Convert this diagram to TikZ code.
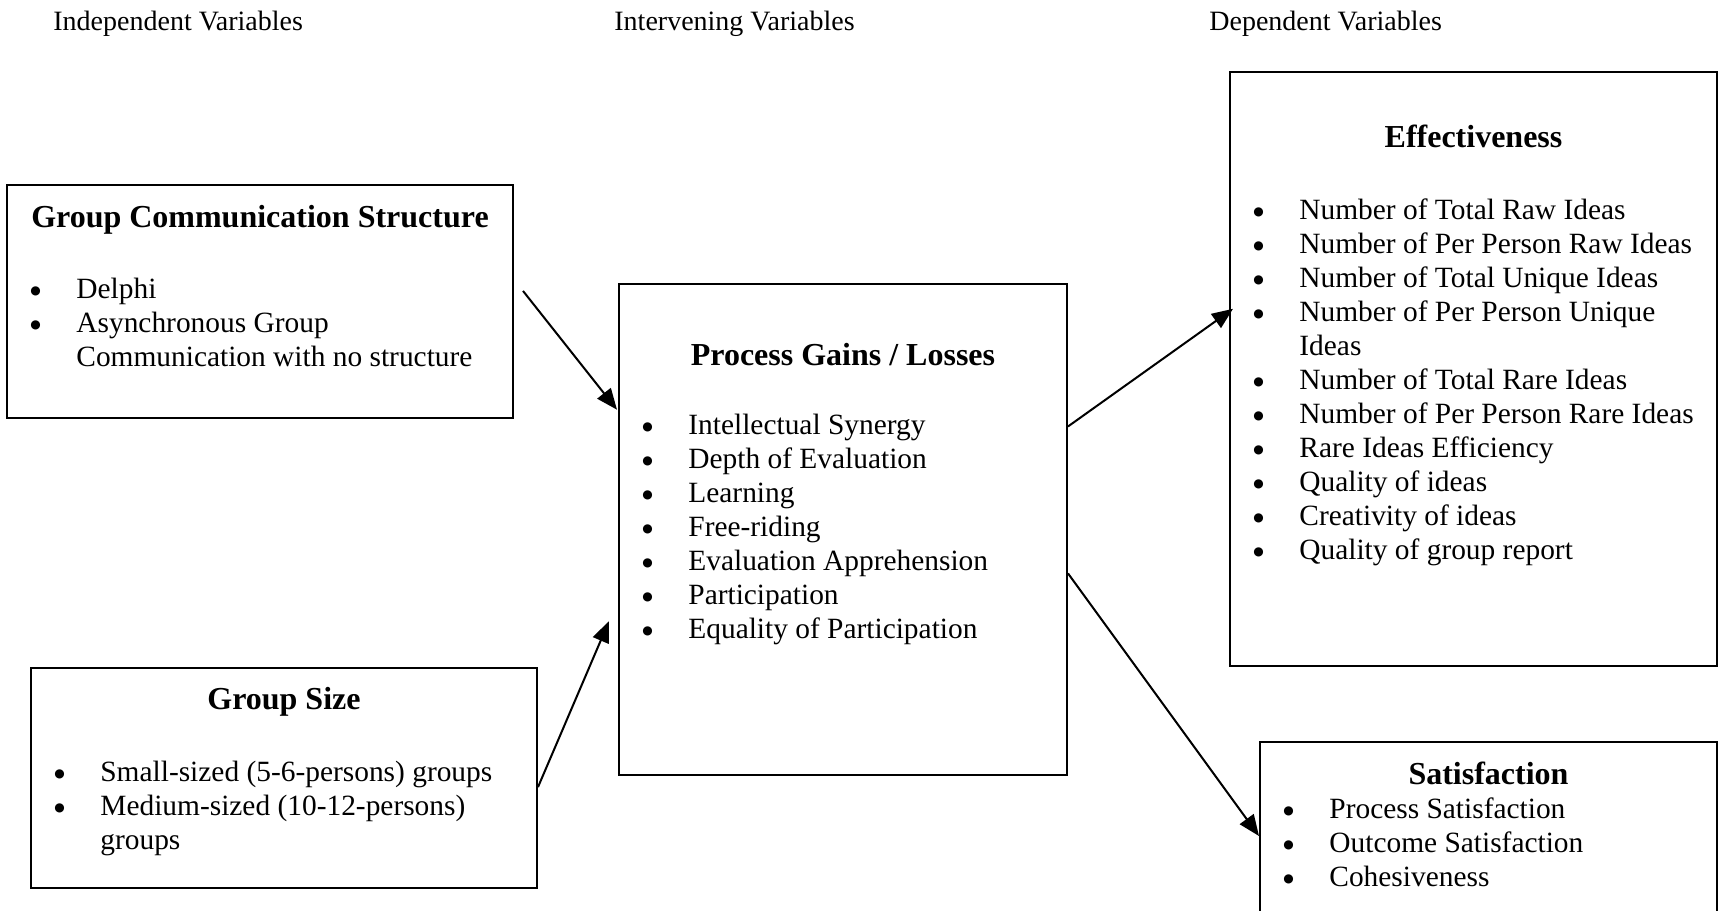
\documentclass[tikz,border=0pt]{standalone}
\usepackage{fontspec}
\setmainfont{Liberation Serif}
\newfontfamily\symfont{DejaVu Sans}
\usetikzlibrary{arrows.meta,calc}

\tikzset{
  box/.style={draw, line width=1pt, inner sep=0pt},
  boxtitle/.style={anchor=base, inner sep=0pt, font=\fontsize{16}{19}\selectfont\bfseries},
  itemlist/.style={anchor=base west, inner sep=0pt, font=\fontsize{14.7}{17}\selectfont},
  header/.style={anchor=base west, inner sep=0pt, font=\fontsize{14}{17}\selectfont},
  link/.style={line width=1pt, -{Triangle[length=10.5pt,width=8.5pt]}}
}
\newcommand{\bigbul}{\raisebox{1.6pt}{\symfont\fontsize{6}{7}\selectfont ●}}
\newcommand{\itemtab}[1]{\begin{tabular}[t]{@{}p{23pt}@{}l@{}}#1\end{tabular}}

\begin{document}
\begin{tikzpicture}[x=0.5pt,y=-0.5pt]
\clip (0,0) rectangle (1718,910);

%% headers
\node[header] (indep) at (53,31) {Independent Variables};
\node[header] (interv) at (614,31) {Intervening Variables};
\node[header] (dep) at (1209,31) {Dependent Variables};

%% boxes
\node[box, minimum width=253pt, minimum height=116.5pt] (gcs) at (260,301.5) {};
\node[box, minimum width=253pt, minimum height=110pt] (gsize) at (284,778) {};
\node[box, minimum width=224pt, minimum height=245.5pt] (proc) at (843,529.5) {};
\node[box, minimum width=243.5pt, minimum height=297pt] (eff) at (1473.5,369) {};
\node[box, minimum width=228.5pt, minimum height=94pt] (sat) at (1488.5,836) {};

%% titles
\node[boxtitle] (gcstitle) at ([yshift=-21.5pt]gcs.north) {Group Communication Structure};
\node[boxtitle] (gsizetitle) at ([yshift=-21pt]gsize.north) {Group Size};
\node[boxtitle] (proctitle) at ([yshift=-41pt]proc.north) {Process Gains / Losses};
\node[boxtitle] (efftitle) at ([yshift=-38pt]eff.north) {Effectiveness};
\node[boxtitle] (sattitle) at ([yshift=-21.5pt]sat.north) {Satisfaction};

%% lists
\node[itemlist] (gcslist) at ([xshift=12pt,yshift=-57pt]gcs.north west) {\itemtab{
  \bigbul & Delphi\\
  \bigbul & Asynchronous Group\\
          & Communication with no structure}};
\node[itemlist] (gsizelist) at ([xshift=12pt,yshift=-57pt]gsize.north west) {\itemtab{
  \bigbul & Small-sized (5-6-persons) groups\\
  \bigbul & Medium-sized (10-12-persons)\\
          & groups}};
\node[itemlist] (proclist) at ([xshift=12pt,yshift=-75.5pt]proc.north west) {\itemtab{
  \bigbul & Intellectual Synergy\\
  \bigbul & Depth of Evaluation\\
  \bigbul & Learning\\
  \bigbul & Free-riding\\
  \bigbul & Evaluation Apprehension\\
  \bigbul & Participation\\
  \bigbul & Equality of Participation}};
\node[itemlist] (efflist) at ([xshift=12pt,yshift=-74pt]eff.north west) {\itemtab{
  \bigbul & Number of Total Raw Ideas\\
  \bigbul & Number of Per Person Raw Ideas\\
  \bigbul & Number of Total Unique Ideas\\
  \bigbul & Number of Per Person Unique\\
          & Ideas\\
  \bigbul & Number of Total Rare Ideas\\
  \bigbul & Number of Per Person Rare Ideas\\
  \bigbul & Rare Ideas Efficiency\\
  \bigbul & Quality of ideas\\
  \bigbul & Creativity of ideas\\
  \bigbul & Quality of group report}};
\node[itemlist] (satlist) at ([xshift=12pt,yshift=-38.5pt]sat.north west) {\itemtab{
  \bigbul & Process Satisfaction\\
  \bigbul & Outcome Satisfaction\\
  \bigbul & Cohesiveness}};

%%% arrows
\draw[link] ($(gcs.north east)!0.455!(gcs.south east)+(4.5pt,0)$) -- ($(proc.north west)!0.257!(proc.south west)+(-0.5pt,0)$);
\draw[link] ($(gsize.north east)!0.541!(gsize.south east)$) -- ($(proc.north west)!0.686!(proc.south west)+(-4.5pt,0)$);
\draw[link] ($(proc.north east)!0.291!(proc.south east)$) -- ($(eff.north west)!0.399!(eff.south west)+(2pt,0)$);
\draw[link] ($(proc.north east)!0.589!(proc.south east)$) -- ($(sat.north west)+(0,-47.5pt)$);

\end{tikzpicture}
\end{document}
